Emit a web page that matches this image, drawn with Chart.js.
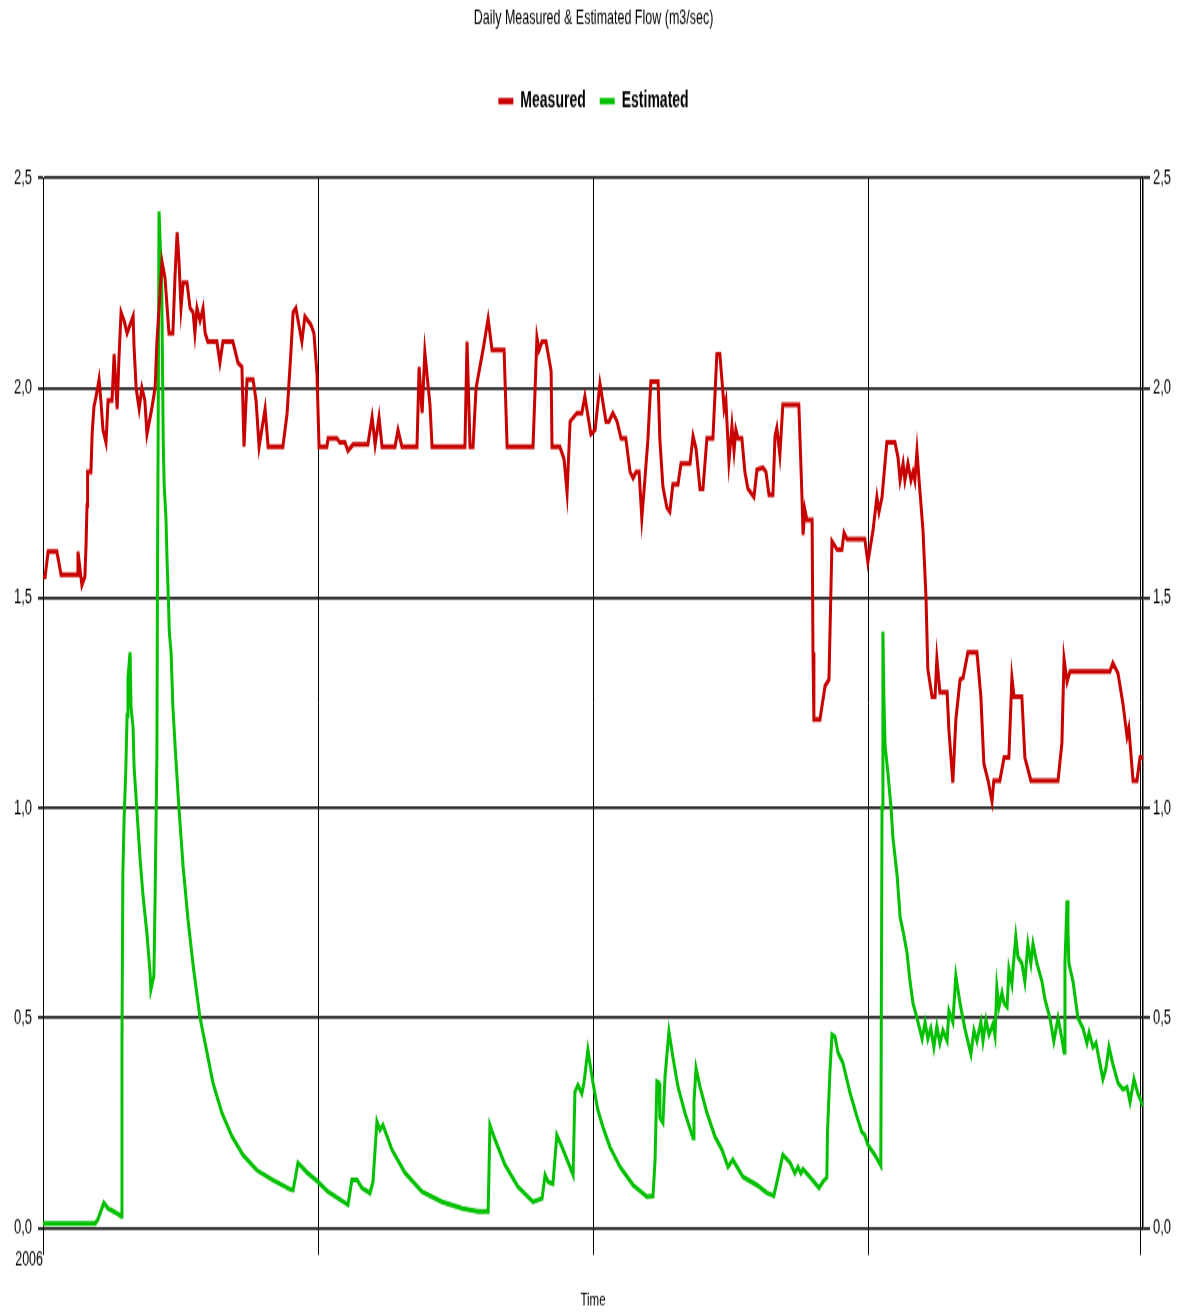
<!DOCTYPE html>
<html>
<head>
<meta charset="utf-8">
<script src="https://cdn.jsdelivr.net/npm/chart.js@4.4.1/dist/chart.umd.min.js"></script>
<style>
  html, body { margin: 0; padding: 0; background: #ffffff; overflow: hidden; }
  #c { display: block; width: 1187px; height: 1315px; }
</style>
</head>
<body>
<canvas id="c" width="1187" height="822" style="width:1187px;height:1315px"></canvas>
<script>
// ---- data (day of year 2006, flow in m3/sec) ----
const chartTitle = 'Daily Measured & Estimated Flow (m3/sec)';
const seriesNames = ['Measured', 'Estimated'];
const xAxisTitle = 'Time';
const xTickDays = [0, 91.25, 182.5, 273.75, 364.3];
const xTickLabels = ['2006', '', '', '', ''];
const yTickLabels = ['0,0', '0,5', '1,0', '1,5', '2,0', '2,5'];

const measuredDays = [
  0,0.7,1.7,4.6,6.0,11.3,11.6,12.9,13.9,14.3,
  14.6,14.8,15.9,16.3,16.9,17.9,18.6,19.2,19.9,20.9,
  21.6,22.9,23.6,24.6,25.2,25.9,26.9,27.9,28.9,29.9,
  30.2,30.9,31.9,32.8,33.8,34.5,36.2,37.2,37.8,38.5,
  39.5,40.5,41.8,43.1,43.8,44.5,45.1,45.8,46.5,47.8,
  48.8,49.8,50.4,51.1,52.1,53.1,53.8,54.7,57.7,58.7,
  59.7,63.0,64.7,66.0,66.7,67.7,69.7,70.7,71.7,73.7,
  74.7,79.6,81.0,82.3,83.0,83.9,85.9,86.9,88.9,89.9,
  90.9,91.6,94.2,94.6,97.5,98.5,100.2,101.2,102.9,107.8,
  109.2,110.2,111.5,112.5,116.8,117.8,119.1,124.1,124.8,125.8,
  126.7,128.4,129.1,140.0,140.7,141.7,142.7,143.7,146.0,147.7,
  149.0,153.0,154.0,162.6,163.9,164.6,165.6,166.9,168.6,168.9,
  171.5,172.9,173.9,174.9,177.2,178.8,179.8,181.8,183.2,184.8,
  186.8,187.8,189.1,190.5,191.8,193.4,194.8,195.8,196.8,197.8,
  198.7,199.7,200.7,201.7,204.1,204.7,205.7,207.0,208.0,209.0,
  210.7,211.7,214.7,215.7,216.7,218.0,219.0,220.3,222.3,223.6,
  224.6,225.6,226.0,226.6,227.6,228.6,229.3,229.9,230.6,231.9,
  232.9,233.9,235.9,236.9,238.9,239.9,240.9,242.2,242.9,243.5,
  244.5,245.5,250.8,251.8,252.2,252.8,253.5,255.2,255.5,255.8,
  257.8,259.5,260.8,261.8,263.5,265.1,265.8,266.8,272.7,273.7,
  275.4,276.7,277.4,278.4,280.0,282.7,283.7,284.4,285.4,286.0,
  287.0,288.0,288.7,289.3,290.0,290.7,292.0,293.0,293.6,295.0,
  296.0,296.6,297.6,300.0,300.6,301.9,302.9,304.3,305.3,306.9,
  309.9,311.2,312.2,313.6,314.9,315.5,317.5,318.9,320.5,321.5,
  322.2,324.8,325.8,327.8,336.8,338.1,338.8,339.8,340.8,354.0,
  355.0,356.7,358.3,359.7,360.3,361.7,363.0,364.0,365.0
];
const measuredValues = [
  1.55,1.55,1.61,1.61,1.555,1.555,1.61,1.53,1.55,1.63,
  1.72,1.80,1.80,1.89,1.955,1.99,2.02,1.97,1.90,1.87,
  1.97,1.97,2.08,1.95,2.07,2.18,2.16,2.13,2.15,2.17,
  2.10,2.00,1.95,2.00,1.97,1.89,1.955,2.00,2.11,2.19,
  2.30,2.26,2.13,2.13,2.265,2.37,2.305,2.19,2.25,2.25,
  2.19,2.18,2.13,2.19,2.16,2.19,2.13,2.11,2.11,2.06,
  2.11,2.11,2.06,2.05,1.86,2.02,2.02,1.97,1.86,1.95,
  1.86,1.86,1.94,2.09,2.18,2.19,2.11,2.17,2.15,2.13,
  2.035,1.86,1.86,1.88,1.88,1.87,1.87,1.85,1.865,1.865,
  1.93,1.865,1.93,1.86,1.86,1.90,1.86,1.86,2.05,1.94,
  2.085,1.96,1.86,1.86,2.11,1.86,1.86,2.00,2.09,2.165,
  2.09,2.09,1.86,1.86,2.12,2.09,2.11,2.11,2.04,1.86,
  1.86,1.83,1.75,1.92,1.94,1.94,1.98,1.89,1.90,2.01,
  1.92,1.92,1.94,1.92,1.88,1.88,1.80,1.785,1.80,1.80,
  1.69,1.78,1.875,2.015,2.015,1.875,1.765,1.715,1.705,1.77,
  1.77,1.82,1.82,1.885,1.855,1.76,1.76,1.88,1.88,2.08,
  2.08,1.99,1.95,1.97,1.825,1.91,1.85,1.90,1.88,1.88,
  1.80,1.76,1.74,1.805,1.81,1.80,1.745,1.745,1.885,1.905,
  1.84,1.96,1.96,1.75,1.65,1.71,1.685,1.685,1.37,1.21,
  1.21,1.29,1.305,1.635,1.615,1.615,1.655,1.64,1.64,1.585,
  1.66,1.74,1.705,1.74,1.87,1.87,1.835,1.78,1.82,1.78,
  1.82,1.78,1.80,1.78,1.85,1.78,1.66,1.50,1.33,1.265,
  1.265,1.355,1.275,1.275,1.185,1.06,1.21,1.305,1.31,1.37,
  1.37,1.265,1.105,1.065,1.015,1.065,1.065,1.12,1.12,1.31,
  1.265,1.265,1.12,1.065,1.065,1.155,1.355,1.30,1.325,1.325,
  1.345,1.32,1.25,1.17,1.19,1.065,1.065,1.12,1.12
];

const estimatedDays = [
  0,17.3,18.2,20.2,21.6,23.2,24.9,25.9,26.2,26.5,
  26.9,27.5,27.9,28.2,28.9,29.2,29.9,30.2,31.2,32.2,
  33.2,34.5,35.5,35.8,36.8,37.2,37.8,38.0,38.2,38.5,
  39.4,39.9,40.2,40.8,41.2,41.6,41.9,42.5,43.1,44.1,
  45.1,46.5,48.1,49.8,52.1,54.4,56.4,59.4,62.7,66.4,
  71.0,76.3,82.0,83.0,84.6,87.6,91.2,94.6,101.2,102.5,
  104.2,105.8,108.5,109.5,110.8,111.8,112.8,115.8,120.1,125.8,
  132.4,139.0,144.3,147.7,148.3,150.0,153.3,157.6,162.6,165.6,
  166.6,167.6,169.2,170.5,172.2,175.9,176.5,177.5,178.8,179.5,
  180.8,182.5,184.1,185.8,188.1,191.5,195.8,200.4,202.4,203.1,
  203.7,204.4,204.7,205.7,206.4,207.7,209.0,210.7,213.0,215.7,
  216.0,216.7,218.0,220.3,223.0,225.3,227.3,228.9,232.3,236.9,
  240.2,242.5,243.9,245.5,247.9,249.5,250.5,251.5,252.2,254.5,
  257.5,258.8,260.1,260.3,261.1,261.8,262.8,263.8,265.4,267.8,
  270.1,271.7,272.7,273.7,276.0,278.0,278.2,278.4,278.7,279.0,
  279.4,280.4,281.4,282.0,283.4,284.4,285.4,286.7,287.7,288.7,
  290.0,291.7,292.7,293.6,294.6,295.6,296.6,297.6,298.6,300.0,
  300.6,301.9,302.9,304.3,305.9,307.9,308.9,309.9,311.2,311.9,
  312.9,313.9,315.2,315.9,316.5,317.2,318.2,318.9,319.9,320.5,
  321.5,321.9,322.8,323.5,324.8,325.8,326.8,327.8,328.5,329.8,
  331.5,332.5,334.1,335.4,336.8,338.1,338.8,339.1,339.8,340.1,
  340.4,341.8,343.4,345.1,346.4,347.1,348.4,349.4,351.7,352.7,
  353.7,355.0,356.7,358.3,359.7,360.7,362.0,363.3,365.0
];
const estimatedValues = [
  0.01,0.01,0.02,0.06,0.046,0.04,0.033,0.028,0.436,0.843,
  0.97,1.097,1.22,1.31,1.37,1.24,1.19,1.10,0.99,0.88,
  0.79,0.70,0.61,0.567,0.60,0.79,1.13,1.57,1.88,2.42,
  2.24,1.87,1.77,1.69,1.58,1.50,1.42,1.37,1.24,1.115,
  1.0,0.86,0.735,0.626,0.50,0.418,0.345,0.273,0.218,0.173,
  0.137,0.114,0.092,0.09,0.155,0.132,0.11,0.086,0.055,0.114,
  0.114,0.095,0.083,0.11,0.253,0.233,0.245,0.186,0.131,0.086,
  0.062,0.047,0.039,0.039,0.245,0.21,0.15,0.098,0.062,0.07,
  0.126,0.11,0.105,0.221,0.193,0.126,0.324,0.34,0.32,0.345,
  0.424,0.345,0.281,0.24,0.193,0.145,0.102,0.074,0.076,0.162,
  0.348,0.345,0.262,0.25,0.36,0.467,0.407,0.336,0.274,0.214,
  0.3,0.38,0.336,0.274,0.217,0.186,0.145,0.162,0.121,0.102,
  0.083,0.076,0.121,0.174,0.155,0.13,0.145,0.13,0.14,0.121,
  0.095,0.11,0.12,0.226,0.369,0.46,0.455,0.417,0.393,0.321,
  0.264,0.229,0.221,0.198,0.174,0.148,0.57,1.0,1.42,1.27,
  1.15,1.08,1.0,0.93,0.84,0.74,0.706,0.655,0.586,0.534,
  0.50,0.45,0.49,0.45,0.475,0.43,0.48,0.44,0.47,0.445,
  0.517,0.49,0.60,0.534,0.474,0.414,0.47,0.445,0.49,0.445,
  0.495,0.46,0.485,0.457,0.573,0.526,0.56,0.535,0.526,0.616,
  0.58,0.62,0.693,0.645,0.63,0.586,0.676,0.63,0.676,0.63,
  0.586,0.543,0.50,0.444,0.50,0.45,0.418,0.63,0.78,0.71,
  0.63,0.586,0.50,0.475,0.44,0.465,0.43,0.44,0.354,0.38,
  0.431,0.39,0.345,0.33,0.335,0.30,0.354,0.32,0.29
];

// ---- chart ----
const FONT = "'Liberation Sans', Arial, sans-serif";
const toPoints = (xs, ys) => xs.map((x, i) => ({ x: x, y: ys[i] }));

const legendSpacer = {
  id: 'legendSpacer',
  beforeInit(chart) {
    const fit = chart.legend.fit;
    chart.legend.fit = function () { fit.call(this); this.height += 31; };
  }
};

new Chart(document.getElementById('c'), {
  type: 'line',
  data: {
    datasets: [
      { label: seriesNames[0], data: toPoints(measuredDays, measuredValues),
        borderColor: '#c80000', backgroundColor: '#c80000', borderWidth: 3,
        pointRadius: 0, tension: 0, yAxisID: 'y' },
      { label: seriesNames[1], data: toPoints(estimatedDays, estimatedValues),
        borderColor: '#00c000', backgroundColor: '#00c000', borderWidth: 3,
        pointRadius: 0, tension: 0, yAxisID: 'y' }
    ]
  },
  plugins: [legendSpacer],
  options: {
    responsive: false,
    devicePixelRatio: 1,
    animation: false,
    layout: { padding: 0 },
    plugins: {
      title: { display: true, text: chartTitle, color: '#000',
        font: { family: FONT, size: 12.5, weight: 'normal' },
        padding: { top: 3.75, bottom: 23.4 } },
      legend: { display: true, position: 'top',
        labels: { boxWidth: 15, boxHeight: 4, padding: 14, color: '#000',
          font: { family: FONT, size: 14, weight: 'bold' },
          generateLabels: chart => Chart.defaults.plugins.legend.labels.generateLabels(chart)
            .map(l => Object.assign(l, { lineWidth: 0 })) } },
      tooltip: { enabled: false }
    },
    scales: {
      x: {
        type: 'linear', min: 0, max: 365,
        afterBuildTicks: s => { s.ticks = xTickDays.map(v => ({ value: v })); },
        afterFit: s => { s.height = 54.5; },
        ticks: { autoSkip: false, maxRotation: 0, align: 'end', padding: -4.5, color: '#000',
          font: { family: FONT, size: 12.5 },
          callback: (v, i) => xTickLabels[i] },
        grid: { color: '#000', lineWidth: 1, tickLength: 17, drawTicks: true },
        border: { display: false },
        title: { display: true, text: xAxisTitle, color: '#000',
          font: { family: FONT, size: 11.5 }, padding: { top: 0, bottom: 2 } }
      },
      y: {
        position: 'left', min: 0, max: 2.5,
        afterFit: s => { s.width = 43; },
        ticks: { stepSize: 0.5, padding: 6, color: '#000', font: { family: FONT, size: 13 },
          callback: (v, i) => yTickLabels[i] },
        grid: { color: '#222', lineWidth: 1.8, tickLength: 5 },
        border: { display: true, color: '#000', width: 1 }
      },
      y2: {
        position: 'right', min: 0, max: 2.5,
        afterFit: s => { s.width = 44; },
        ticks: { stepSize: 0.5, padding: 3, color: '#000', font: { family: FONT, size: 13 },
          callback: (v, i) => yTickLabels[i] },
        grid: { drawOnChartArea: false, color: '#222', lineWidth: 1.8, tickLength: 7 },
        border: { display: true, color: '#000', width: 1.5 }
      }
    }
  }
});
</script>
</body>
</html>
